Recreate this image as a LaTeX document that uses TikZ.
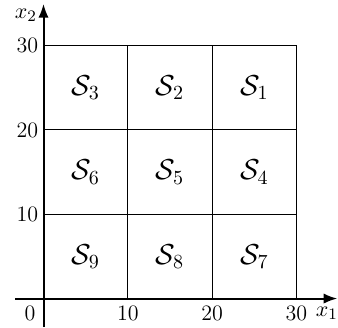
\documentclass[tikz,border=0pt]{standalone}
\usepackage{tikz}
\usetikzlibrary{arrows.meta, positioning}
\usepackage{amsmath}
\usepackage{amssymb}

\begin{document}
\begin{tikzpicture}[
		x=4.21pt, y=4.21pt,
		font=\fontsize{11}{13}\selectfont,
		cell/.style={draw, minimum size=42.1pt, inner sep=0pt, outer sep=0pt, line width=0.5pt, font=\fontsize{14}{16}\selectfont},
		axis/.style={-{Latex[length=2.4mm, width=1.8mm]}, line width=1pt},
		tick/.style={inner sep=1pt}
	]
		\useasboundingbox (-5.16,-3.38) rectangle (34.93,35.41);

		\node[cell] (s3) at (5,25) {$\mathcal{S}_3$};
		\node[cell] (s2) at (15,25) {$\mathcal{S}_2$};
		\node[cell] (s1) at (25,25) {$\mathcal{S}_1$};
		\node[cell] (s6) at (5,15) {$\mathcal{S}_6$};
		\node[cell] (s5) at (15,15) {$\mathcal{S}_5$};
		\node[cell] (s4) at (25,15) {$\mathcal{S}_4$};
		\node[cell] (s9) at (5,5) {$\mathcal{S}_9$};
		\node[cell] (s8) at (15,5) {$\mathcal{S}_8$};
		\node[cell] (s7) at (25,5) {$\mathcal{S}_7$};

		\coordinate (xbeg) at (-3.38,0);
		\coordinate (xend) at (34.85,0);
		\coordinate (ybeg) at (0,-3.38);
		\coordinate (yend) at (0,34.95);
		\draw[axis] (xbeg) -- (xend);
		\draw[axis] (ybeg) -- (yend);

		\node[tick] (x0) at (-1.6,-1.75) {0};
		\node[tick] (x10) at (10,-1.75) {10};
		\node[tick] (x20) at (20,-1.75) {20};
		\node[tick] (x30) at (30,-1.75) {30};
		\node[tick] (y10) at (-1.9,10) {10};
		\node[tick] (y20) at (-1.9,20) {20};
		\node[tick] (y30) at (-1.9,30) {30};
		\node[tick] (lx1) at (33.6,-1.75) {$x_1$};
		\node[tick] (lx2) at (-2.1,33.6) {$x_2$};
	\end{tikzpicture}
\end{document}
